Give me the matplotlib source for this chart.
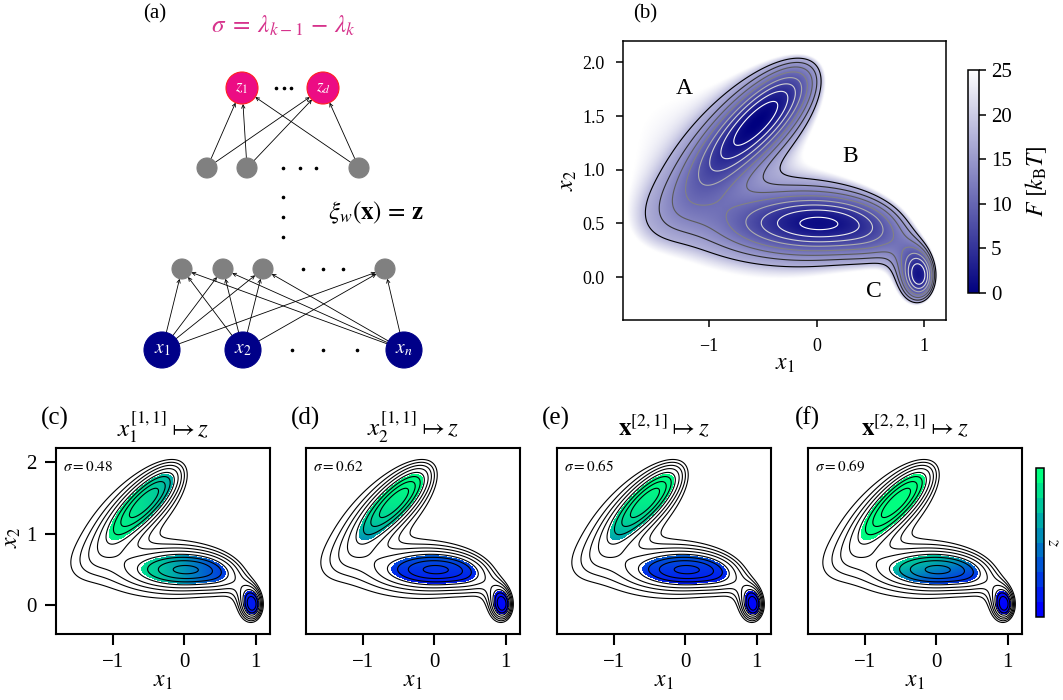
import numpy as np
import matplotlib
matplotlib.use("Agg")
import matplotlib.pyplot as plt
from matplotlib.colors import LinearSegmentedColormap, Normalize
from matplotlib.cm import ScalarMappable
from matplotlib.patches import Circle, FancyArrowPatch

plt.rcParams['font.family'] = ['Liberation Serif', 'DejaVu Serif']
plt.rcParams['mathtext.fontset'] = 'stix'
plt.rcParams['axes.linewidth'] = 1.1

# ---------------- data: free-energy surface (modified Mueller-Brown terms)
mb_A = [-255.0, -165.0, -170.0, 15.0, -35.0]
mb_a = [-20.0, -1.0, -6.5, 0.7, -8.0]
mb_b = [0.0, 0.0, 11.0, 0.6, 0.0]
mb_c = [-10.0, -10.0, -6.5, 0.7, -15.0]
mb_x0 = [0.98, 0.1, -0.5, -1.0, 0.68]
mb_y0 = [-0.01, 0.5, 1.5, 1.0, 0.25]
beta = 0.12
F_max = 25
F_sampled = 17.3          # beyond the sampled region F rises steeply
F_ticks = [0, 5, 10, 15, 20, 25]
contour_levels = [1.8, 4.0, 6.2, 8.4, 10.7, 12.9, 15.1, 17.3]

state_labels = ['A', 'B', 'C']
state_label_x = [-1.23, 0.31, 0.53]
state_label_y = [1.76, 1.12, -0.13]

# ---------------- data: CV panels
panel_letters = ['(c)', '(d)', '(e)', '(f)']
panel_titles = [r'$x_1^{[1,1]}\mapsto z$', r'$x_2^{[1,1]}\mapsto z$',
                r'$\mathbf{x}^{[2,1]}\mapsto z$', r'$\mathbf{x}^{[2,2,1]}\mapsto z$']
spectral_gaps = [0.48, 0.62, 0.65, 0.69]
cv_bias = [0.30, -3.39, -3.36, -2.705]
cv_w_x1 = [-2.6, 0.0, -0.249, -1.5]
cv_w_x2 = [0.0, 4.0, 3.96, 5.5]
sample_F_cut = 7.6

# ---------------- figure
W, H = 1063, 700
fig = plt.figure(figsize=(W / 100, H / 100), dpi=100)


def rect(l, t, r, b):
    return [l / W, 1 - b / H, (r - l) / W, (b - t) / H]


xg = np.linspace(-1.8, 1.2, 481)
yg = np.linspace(-0.4, 2.2, 421)
X, Y = np.meshgrid(xg, yg)
V = np.zeros_like(X)
for A, a, b, c, x0, y0 in zip(mb_A, mb_a, mb_b, mb_c, mb_x0, mb_y0):
    dx, dy = X - x0, Y - y0
    V += A * np.exp(a * dx ** 2 + b * dx * dy + c * dy ** 2)
F = beta * (V - V.min())
F_shade = F + 2.0 * np.clip(F - F_sampled, 0, None)

# ---------------- panel (a): network schematic
axa = fig.add_axes(rect(100, 0, 450, 380))
axa.set_xlim(100, 450)
axa.set_ylim(380, 0)
axa.axis('off')

layers = [
    ([162, 243, 404], 350, 18, '#000088', '#000088'),
    ([182, 223, 263, 385], 269, 10, '#808080', '#808080'),
    ([207, 247, 359], 168, 10, '#808080', '#808080'),
    ([242, 323], 88, 16, '#ec0c84', '#ff2020'),
]
for xs, yy, r, fc, ec in layers:
    for xx in xs:
        axa.add_patch(Circle((xx, yy), r, facecolor=fc, edgecolor=ec, lw=0.8, zorder=3))


def connect(src, dst):
    xs1, y1, r1 = src[0], src[1], src[2]
    xs2, y2, r2 = dst[0], dst[1], dst[2]
    for xa in xs1:
        for xb in xs2:
            d = np.array([xb - xa, y2 - y1], float)
            d /= np.hypot(*d)
            p0 = (xa + r1 * d[0], y1 + r1 * d[1])
            p1 = (xb - r2 * d[0], y2 - r2 * d[1])
            axa.add_patch(FancyArrowPatch(p0, p1, arrowstyle='->', mutation_scale=6,
                                          lw=0.6, color='black', shrinkA=0, shrinkB=0,
                                          zorder=2))


connect(layers[0], layers[1])
connect(layers[2], layers[3])

for xx, lab in zip(layers[0][0], [r'$x_1$', r'$x_2$', r'$x_n$']):
    axa.text(xx, 350, lab, color='white', ha='center', va='center', fontsize=14, zorder=4)
for xx, lab in zip(layers[3][0], [r'$z_1$', r'$z_d$']):
    axa.text(xx, 88, lab, color='white', ha='center', va='center', fontsize=12, zorder=4)

dot_kw = dict(ls='none', marker='o', ms=1.6, color='black')
axa.plot([292, 323, 357], [350] * 3, **dot_kw)
axa.plot([303, 323, 343], [269] * 3, **dot_kw)
axa.plot([283, 300, 316], [168] * 3, **dot_kw)
axa.plot([283] * 3, [197, 217, 237], **dot_kw)
axa.plot([276, 283.5, 291], [88] * 3, **dot_kw)

axa.text(155, 14, '(a)', ha='center', va='center', fontsize=15)
axa.text(283, 26, r'$\sigma\;=\;\lambda_{k-1}\,-\,\lambda_k$', color='#d6338c',
         ha='center', va='center', fontsize=18)
axa.text(376, 213, r'$\xi_w(\mathbf{x})\,=\,\mathbf{z}$', ha='center', va='center', fontsize=18)

# ---------------- panel (b)
navy_white = LinearSegmentedColormap.from_list('navy_white', ['#00007f', '#ffffff'])
axb = fig.add_axes(rect(623, 41, 946, 320))
im = axb.imshow(np.clip(F_shade, 0, F_max), extent=[xg[0], xg[-1], yg[0], yg[-1]],
                origin='lower', cmap=navy_white, vmin=0, vmax=F_max,
                interpolation='bilinear', aspect='auto')
axb.contour(X, Y, F, levels=contour_levels, cmap='Greys', linewidths=0.8)
axb.set_xlim(-1.8, 1.2)
axb.set_ylim(-0.4, 2.2)
axb.set_xticks([-1, 0, 1])
axb.set_yticks([0.0, 0.5, 1.0, 1.5, 2.0])
axb.set_yticklabels(['0.0', '0.5', '1.0', '1.5', '2.0'])
axb.tick_params(direction='out', length=5, width=1.1, labelsize=13, pad=8)
for s, sx, sy in zip(state_labels, state_label_x, state_label_y):
    axb.text(sx, sy, s, ha='center', va='center', fontsize=17)
axb.set_xlabel(r'$x_1$', fontsize=17)
axb.set_ylabel(r'$x_2$', fontsize=17)
axb.xaxis.set_label_coords(0.5, -0.161)
axb.xaxis.label.set_va('center')
axb.yaxis.set_label_coords(-0.17, 0.5)
axb.yaxis.label.set_va('center')
fig.text(645 / W, 1 - 14 / H, '(b)', ha='center', va='center', fontsize=15)

caxb = fig.add_axes(rect(968, 70, 979, 293))
cb = fig.colorbar(im, cax=caxb, ticks=F_ticks)
cb.ax.tick_params(labelsize=15, length=5, width=1.1)
cb.outline.set_linewidth(1.1)
cb.set_label(r'$F\ [k_\mathrm{B}T]$', fontsize=17, labelpad=8)

# ---------------- panels (c)-(f)
lefts = [56, 306, 557, 808]
axw = 214
top, bot = 448, 634
for i in range(4):
    l = lefts[i]
    ax = fig.add_axes(rect(l, top, l + axw, bot))
    logit = cv_bias[i] + cv_w_x1[i] * X + cv_w_x2[i] * Y
    Z = 1.0 / (1.0 + np.exp(-logit))
    Zm = np.ma.masked_where(F > sample_F_cut, Z)
    ax.pcolormesh(xg, yg, Zm, cmap='winter', vmin=0, vmax=1, shading='auto')
    ax.contour(X, Y, F, levels=contour_levels, colors='black', linewidths=0.8)
    ax.set_xlim(-1.8, 1.2)
    ax.set_ylim(-0.4, 2.2)
    ax.set_xticks([-1, 0, 1])
    ax.tick_params(direction='out', length=8, width=1.5, labelsize=15, pad=6)
    ax.set_xlabel(r'$x_1$', fontsize=17)
    ax.xaxis.set_label_coords(0.5, -0.258)
    ax.xaxis.label.set_va('center')
    if i == 0:
        ax.set_yticks([0, 1, 2])
        ax.set_ylabel(r'$x_2$', fontsize=17)
        ax.yaxis.set_label_coords(-0.205, 0.52)
        ax.yaxis.label.set_va('center')
    else:
        ax.set_yticks([])
    for sp in ax.spines.values():
        sp.set_linewidth(1.5)
    ax.text(0.035, 0.9, r'$\sigma = %.2f$' % spectral_gaps[i], transform=ax.transAxes,
            fontsize=11, ha='left', va='center')
    fig.text((l - 1) / W, 1 - 418 / H, panel_letters[i], ha='center', va='center', fontsize=18)
    fig.text((l + axw / 2) / W, 1 - 427 / H, panel_titles[i], ha='center', va='center',
             fontsize=18)

caxz = fig.add_axes(rect(1036, 468, 1044, 617))
cbz = fig.colorbar(ScalarMappable(norm=Normalize(0, 1), cmap=plt.get_cmap('winter', 10)),
                   cax=caxz, ticks=[])
cbz.outline.set_linewidth(1.1)
cbz.set_label(r'$z$', fontsize=13, labelpad=1)

fig.savefig('out.png', dpi=100)
